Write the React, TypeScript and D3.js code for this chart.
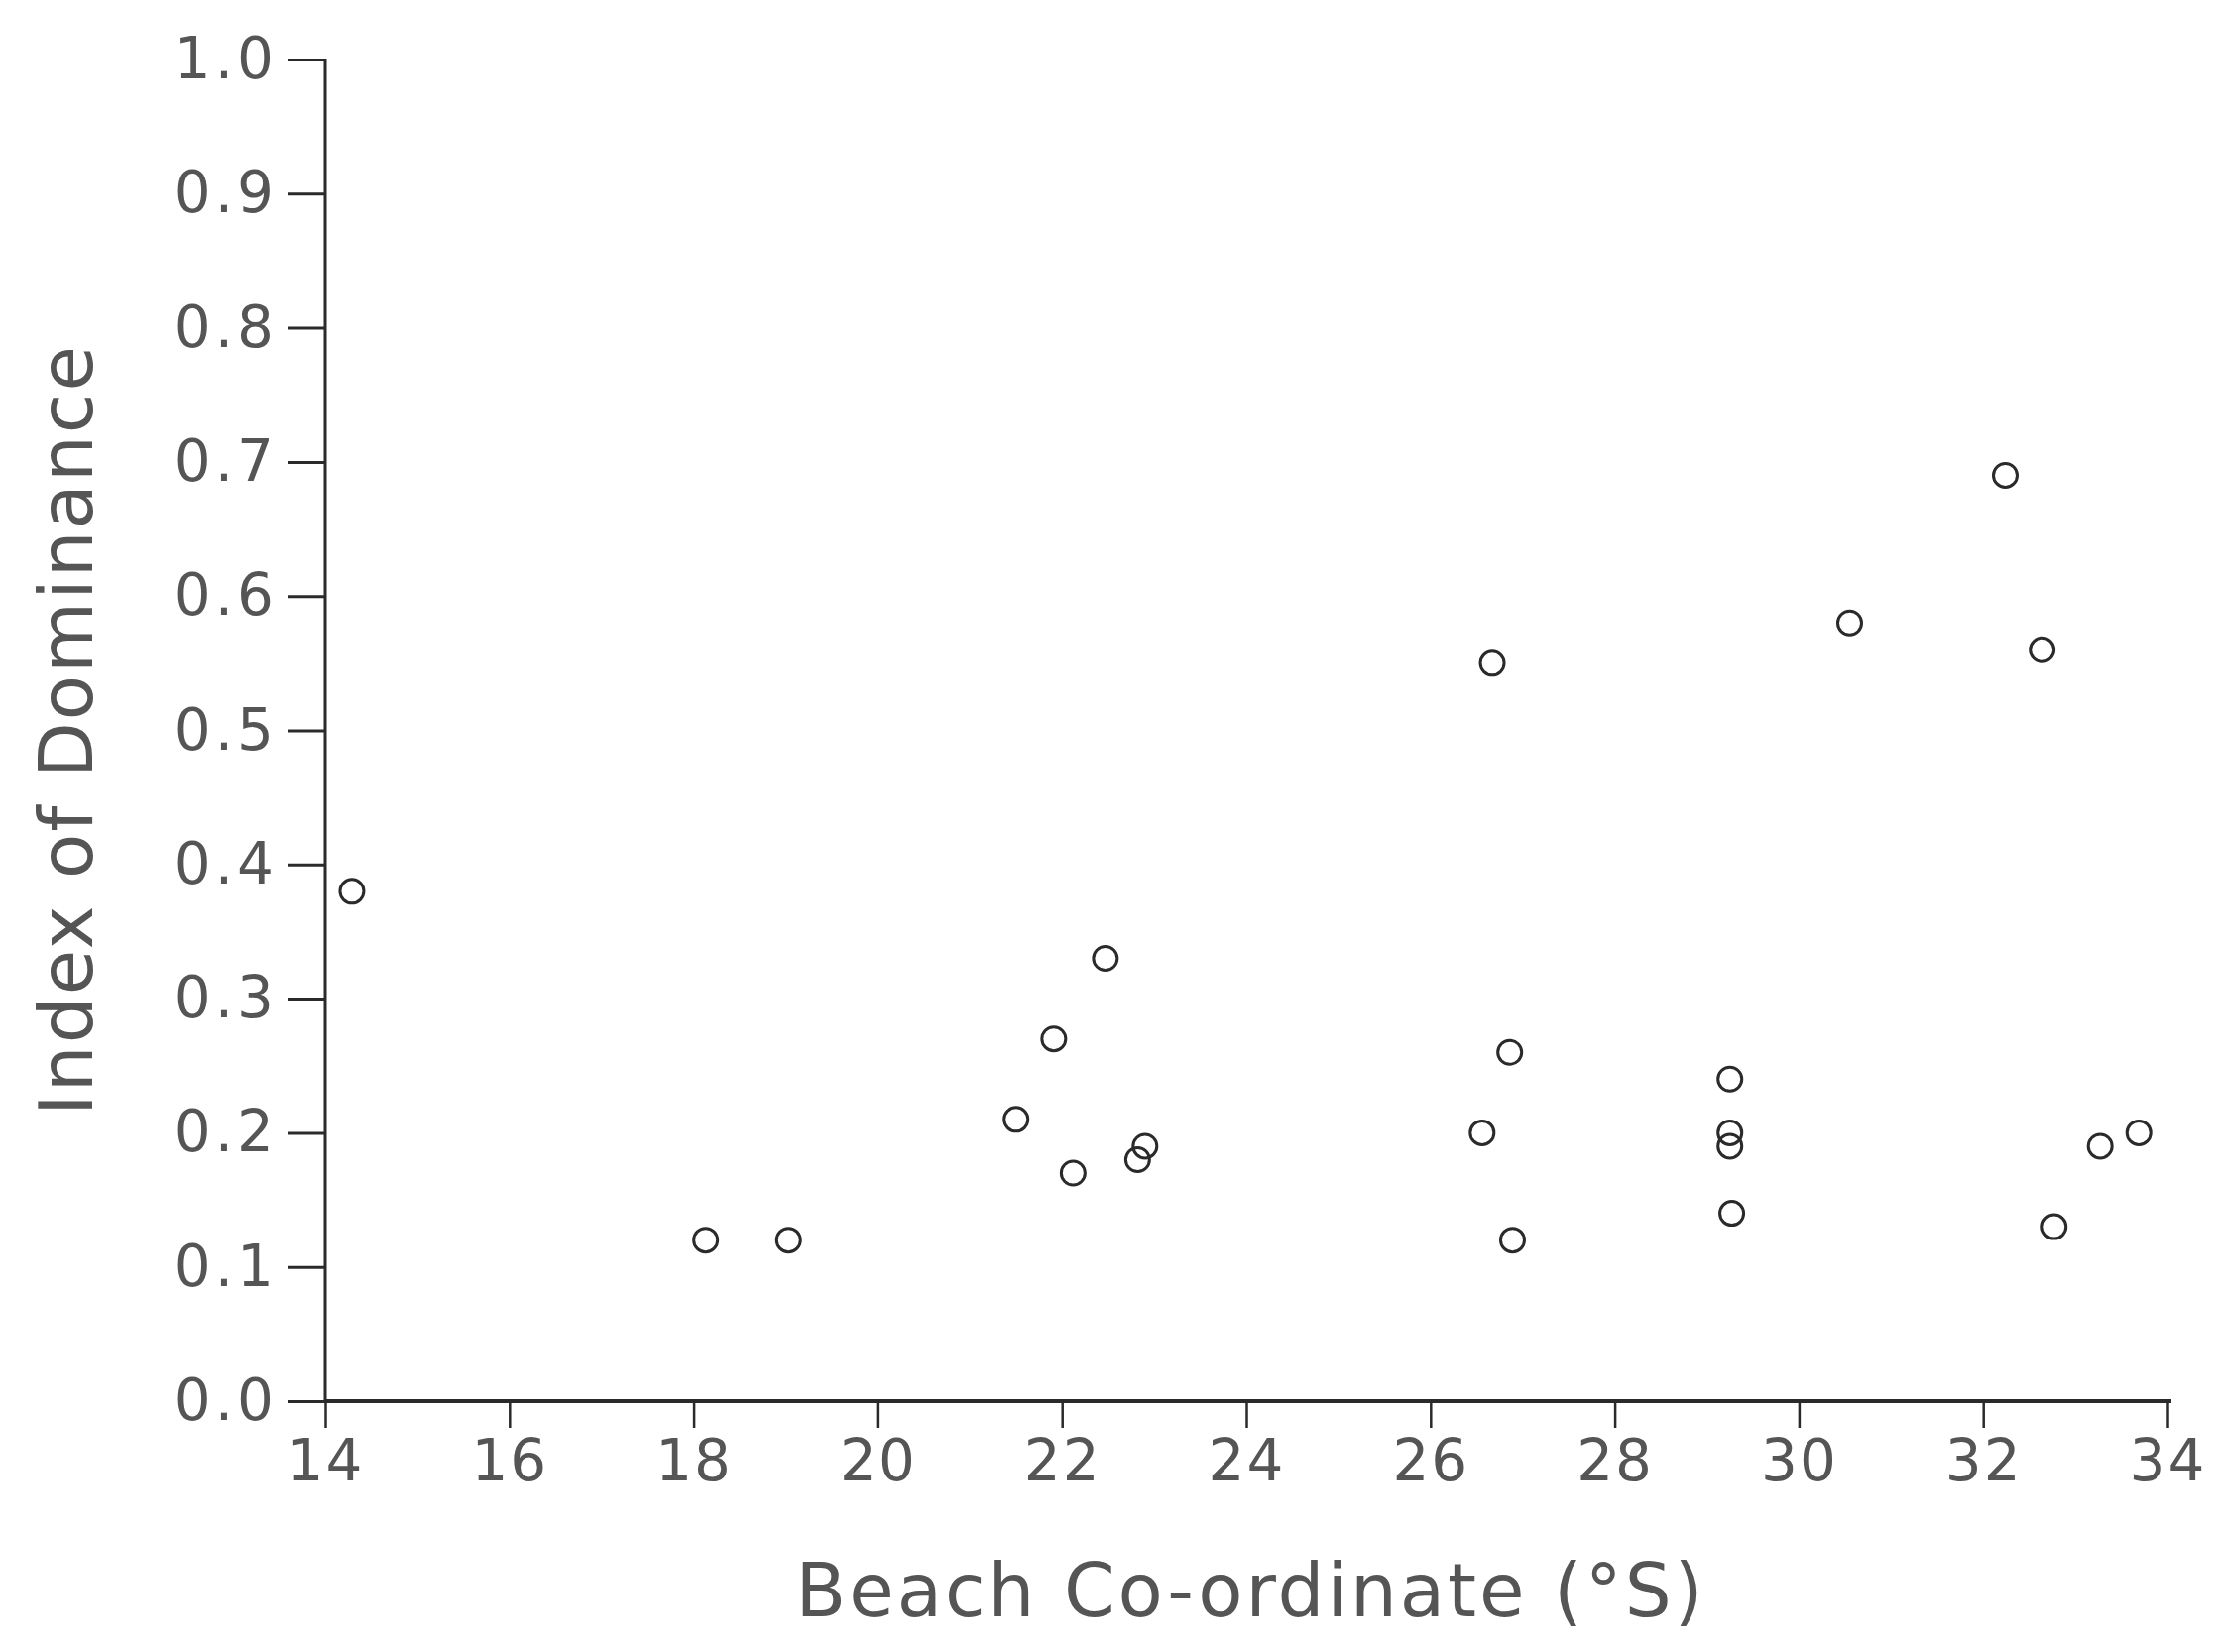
import React, { useEffect, useRef } from 'react';
import * as d3 from 'd3';

// beach co-ordinate (degrees S) and index of dominance
const LATITUDES = [
    14.29, 18.13, 19.03, 21.50, 21.91, 22.12, 22.47, 22.82, 22.90,
    26.56, 26.67, 26.86, 26.89, 29.25, 29.25, 29.25, 29.27, 30.55,
    32.24, 32.64, 32.77, 33.27, 33.69,
];
const DOMINANCE = [
    0.38, 0.12, 0.12, 0.21, 0.27, 0.17, 0.33, 0.18, 0.19,
    0.20, 0.55, 0.26, 0.12, 0.24, 0.20, 0.19, 0.14, 0.58,
    0.69, 0.56, 0.13, 0.19, 0.20,
];
const X_TICKS = [14, 16, 18, 20, 22, 24, 26, 28, 30, 32, 34];
const Y_TICKS = [0, 0.1, 0.2, 0.3, 0.4, 0.5, 0.6, 0.7, 0.8, 0.9, 1.0];

const X_TITLE = 'Beach Co-ordinate (°S)';
const Y_TITLE = 'Index of Dominance';

const WIDTH = 2234;
const HEIGHT = 1666;
const FONT = '"DejaVu Sans", "Liberation Sans", sans-serif';
const TEXT_COLOR = '#555';
const INK = '#2a2a2a';

function drawChart(svgEl: SVGSVGElement)
{
    const svg = d3.select(svgEl);
    svg.selectAll('*').remove();

    const xScale = d3.scaleLinear().domain([14, 34]).range([328, 2186]);
    const yScale = d3.scaleLinear().domain([0, 1]).range([1413, 60]);

    // x axis
    const xAxis = svg.append('g')
        .attr('transform', `translate(0,${ yScale(0) })`)
        .call(d3.axisBottom(xScale).tickValues(X_TICKS).tickFormat(d3.format('d')).tickSize(27).tickPadding(12).tickSizeOuter(0));
    xAxis.select('.domain').attr('stroke', INK).attr('stroke-width', 4)
        .attr('d', `M${ xScale(14) },0H${ xScale(34) + 4 }`);
    xAxis.selectAll('.tick line').attr('stroke', INK).attr('stroke-width', 2.5);
    xAxis.selectAll('.tick text')
        .attr('font-family', FONT)
        .attr('font-size', 58)
        .attr('fill', TEXT_COLOR)
        .attr('letter-spacing', 2);

    // y axis
    const yAxis = svg.append('g')
        .attr('transform', `translate(${ xScale(14) },0)`)
        .call(d3.axisLeft(yScale).tickValues(Y_TICKS).tickFormat(d3.format('.1f')).tickSize(38).tickPadding(10).tickSizeOuter(0));
    yAxis.select('.domain').attr('stroke', INK).attr('stroke-width', 3)
        .attr('d', `M0,${ yScale(1) }V${ yScale(0) }`);
    yAxis.selectAll('.tick line').attr('stroke', INK).attr('stroke-width', 3);
    yAxis.selectAll('.tick text')
        .attr('font-family', FONT)
        .attr('font-size', 58)
        .attr('fill', TEXT_COLOR)
        .attr('letter-spacing', 4);

    // axis titles
    svg.append('text')
        .attr('x', 1260)
        .attr('y', 1630)
        .attr('text-anchor', 'middle')
        .attr('font-family', FONT)
        .attr('font-size', 74)
        .attr('fill', TEXT_COLOR)
        .attr('textLength', 915)
        .attr('lengthAdjust', 'spacing')
        .text(X_TITLE);

    svg.append('text')
        .attr('transform', `translate(93,737) rotate(-90)`)
        .attr('text-anchor', 'middle')
        .attr('font-family', FONT)
        .attr('font-size', 74)
        .attr('fill', TEXT_COLOR)
        .attr('textLength', 776)
        .attr('lengthAdjust', 'spacing')
        .text(Y_TITLE);

    // points
    const points = LATITUDES.map((lat, i) => [lat, DOMINANCE[i]]);
    svg.append('g')
        .selectAll('circle')
        .data(points)
        .join('circle')
        .attr('cx', (d) => xScale(d[0]))
        .attr('cy', (d) => yScale(d[1]))
        .attr('r', 12)
        .attr('fill', 'none')
        .attr('stroke', INK)
        .attr('stroke-width', 3);
}

export default function App()
{
    const svgRef = useRef<SVGSVGElement>(null);

    useEffect(() =>
    {
        if (svgRef.current) drawChart(svgRef.current);
    }, []);

    return (
        <svg
            ref={ svgRef }
            width={ WIDTH }
            height={ HEIGHT }
            style={ { position: 'absolute', left: 0, top: 0, background: '#fff' } }
        />
    );
}
